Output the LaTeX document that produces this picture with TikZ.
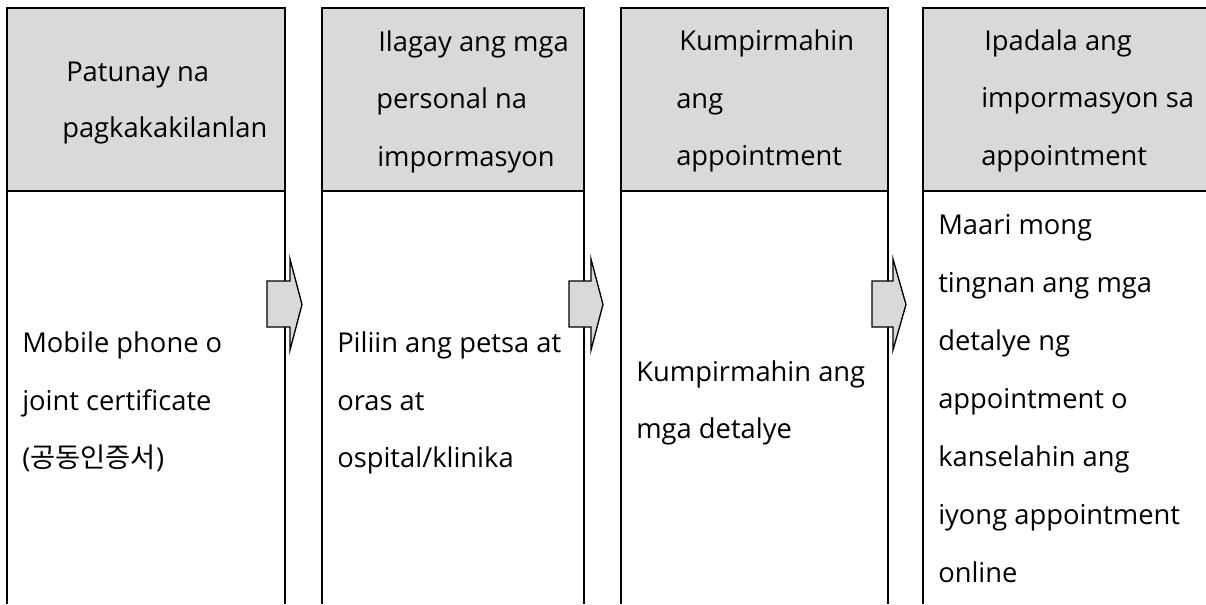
\documentclass[tikz,border=0pt]{standalone}
\usepackage{fontspec}
\setmainfont{Open Sans}
\newfontfamily\krfont{Noto Sans CJK KR}
\definecolor{hdrgray}{HTML}{D9D9D9}
\definecolor{arrowgray}{HTML}{D9D9D9}
\tikzset{
  colline/.style={draw=black, line width=0.9pt},
  hdrfill/.style={fill=hdrgray},
  txt/.style={anchor=base west, inner sep=0pt, font=\fontsize{20.5}{24}\selectfont},
  blockarrow/.style={fill=arrowgray, draw=black, line width=1pt, line join=miter}
}
\begin{document}
\begin{tikzpicture}[x=0.75pt,y=-0.75pt]
\useasboundingbox (0,0) rectangle (1206,604);
% columns
\foreach \L/\R in {7/285, 322/584, 621/888, 923/1215}{
  \fill[hdrfill] (\L,8) rectangle (\R,191);
  \draw[colline] (\L,604) -- (\L,8) -- (\R,8) -- (\R,604);
  \draw[colline] (\L,191) -- (\R,191);
}
% block arrows
\foreach \B/\H/\T [count=\i] in {267/290/302, 569/591/603, 872/893/906}{
  \coordinate (arrow\i) at (\T,304.5);
  \draw[blockarrow] (\B,281) -- (\H,281) -- (\H,259) -- (arrow\i) -- (\H,350) -- (\H,327) -- (\B,327) -- cycle;
}
% column 1
\node[txt] (h1a) at (66,81) {Patunay na};
\node[txt] (h1b) at (62,137) {pagkakakilanlan};
\node[txt] (b1a) at (22,352) {Mobile phone o};
\node[txt] (b1b) at (22,410) {joint certificate};
\node[txt] (b1c) at (22,467) {({\krfont 공동인증서})};
% column 2
\node[txt] (h2a) at (378,51) {Ilagay ang mga};
\node[txt] (h2b) at (376,108) {personal na};
\node[txt] (h2c) at (377,166) {impormasyon};
\node[txt] (b2a) at (337,352) {Piliin ang petsa at};
\node[txt] (b2b) at (337,410) {oras at};
\node[txt] (b2c) at (337,467) {ospital/klinika};
% column 3
\node[txt] (h3a) at (679,50) {Kumpirmahin};
\node[txt] (h3b) at (676,108) {ang};
\node[txt] (h3c) at (676,165) {appointment};
\node[txt] (b3a) at (636,381) {Kumpirmahin ang};
\node[txt] (b3b) at (636,438) {mga detalye};
% column 4
\node[txt] (h4a) at (984,50) {Ipadala ang};
\node[txt] (h4b) at (981,107) {impormasyon sa};
\node[txt] (h4c) at (981,165) {appointment};
\node[txt] (b4a) at (938,234) {Maari mong};
\node[txt] (b4b) at (938,292) {tingnan ang mga};
\node[txt] (b4c) at (938,350) {detalye ng};
\node[txt] (b4d) at (938,408) {appointment o};
\node[txt] (b4e) at (938,466) {kanselahin ang};
\node[txt] (b4f) at (938,524) {iyong appointment};
\node[txt] (b4g) at (938,582) {online};
\end{tikzpicture}
\end{document}
